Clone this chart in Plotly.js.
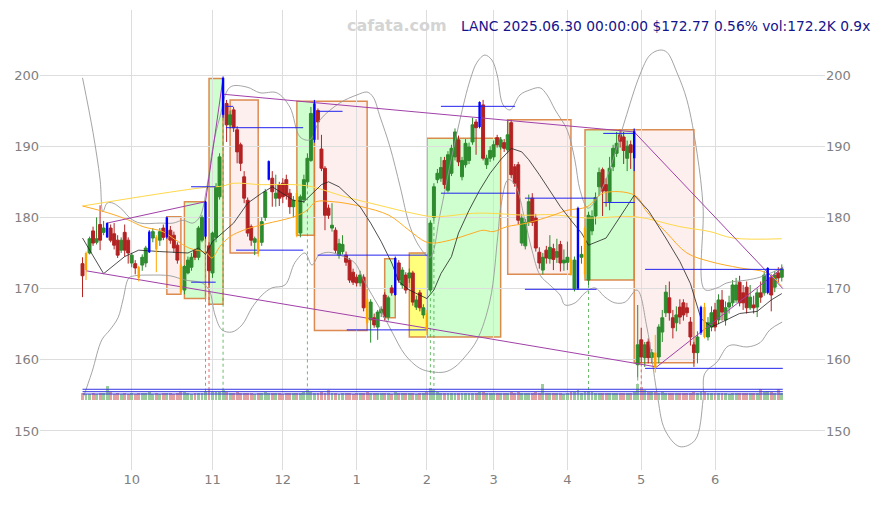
<!DOCTYPE html>
<html><head><meta charset="utf-8">
<script src="https://cdn.plot.ly/plotly-3.0.1.min.js"></script>
<style>html,body{margin:0;padding:0;background:#fff}#chart{width:882px;height:505px}</style>
</head><body><div id="chart"></div>
<script>
// month tick positions (trading-day index) and labels
const monthTickIdx = [14,37,57,78,98,117,138,159,180];
const monthLabels = ['10','11','12','1','2','3','4','5','6'];

const open = [173.5,172.6,175.0,178.1,176.5,179.0,177.9,177.2,178.5,177.7,
176.8,175.4,177.9,176.8,173.6,173.5,173.0,173.3,173.6,175.1,
177.1,177.2,176.8,178.5,177.2,178.2,177.5,176.1,173.3,169.8,
172.2,173.0,175.3,174.4,176.8,177.3,176.0,172.2,177.2,182.9,
194.4,196.0,193.0,195.1,192.3,190.2,185.7,182.4,178.7,176.5,
176.8,176.5,180.0,185.3,185.5,182.7,184.6,184.8,185.3,183.4,
181.5,183.4,177.8,182.5,185.0,188.0,190.9,195.0,189.6,186.9,
181.3,178.5,178.2,174.7,175.2,174.7,174.0,172.3,171.6,170.8,
171.6,168.5,165.6,165.9,164.6,166.6,169.1,166.0,170.1,169.1,
173.6,170.5,171.9,171.5,172.2,167.4,169.4,166.3,166.5,169.8,
180.0,185.3,185.5,188.0,183.8,186.2,188.5,190.9,185.7,187.4,
188.0,190.6,193.4,192.7,195.8,187.4,188.3,188.5,191.2,189.9,
190.5,189.5,193.3,187.1,187.4,176.4,176.0,179.3,182.7,179.9,
175.1,172.6,175.4,174.2,175.6,174.4,176.2,173.6,173.7,174.1,
170.0,170.0,174.4,172.0,171.2,178.1,180.2,184.3,186.7,184.6,
182.2,187.1,189.0,191.6,191.3,188.3,190.2,188.3,159.3,162.8,
160.3,162.5,160.3,161.0,160.4,163.9,166.6,168.7,165.9,165.2,
167.4,168.0,167.3,165.3,162.1,161.0,163.8,167.4,163.2,164.6,
167.0,165.6,168.4,165.6,167.4,168.0,168.4,170.9,169.4,170.2,
167.3,167.7,167.4,169.4,169.4,169.4,171.6,170.2,172.2,171.6];
const high = [174.4,175.2,177.3,178.7,180.0,181.7,179.5,179.3,179.0,179.2,
177.5,177.2,179.0,177.2,175.0,174.0,173.2,174.8,176.0,178.2,
178.5,177.5,178.5,179.0,180.1,178.8,178.0,176.5,173.5,173.3,
174.5,175.0,175.6,178.8,180.3,182.3,176.5,178.0,184.8,189.0,
199.8,196.5,195.0,195.5,192.8,190.5,186.5,182.8,179.0,177.3,
177.0,180.0,184.0,188.0,186.5,186.0,185.0,185.5,186.0,184.0,
183.0,183.8,183.2,186.0,189.0,195.5,196.5,195.3,191.6,187.2,
181.8,182.0,178.6,177.0,177.5,175.2,174.3,172.8,172.0,172.5,
172.0,170.0,168.5,166.5,167.0,167.5,169.5,169.0,170.5,174.5,
174.0,173.0,172.3,172.8,172.5,169.0,169.8,167.8,167.0,179.6,
184.8,186.8,188.5,188.5,189.3,190.2,192.5,191.5,188.5,191.0,
190.5,194.0,193.8,196.3,196.5,188.8,190.0,190.8,191.6,191.3,
191.0,193.7,193.7,187.5,187.8,180.5,179.8,183.2,183.4,180.5,
175.8,175.0,176.0,177.5,176.3,177.0,176.7,175.5,176.6,174.2,
174.5,181.5,176.0,178.8,180.8,181.0,183.5,187.0,187.0,185.5,
188.5,190.2,192.0,192.3,192.0,190.8,190.8,192.5,167.7,164.5,
162.5,163.0,161.5,163.5,165.0,167.0,170.5,171.0,167.0,167.5,
168.5,168.5,168.0,166.0,162.5,164.0,167.6,168.0,166.0,167.5,
168.0,169.2,169.8,168.2,169.0,171.2,171.5,171.8,170.5,171.0,
170.5,169.0,170.0,171.0,172.5,173.0,172.0,172.5,173.0,173.4];
const low = [168.8,171.2,174.8,176.0,176.2,175.4,177.5,177.1,176.5,175.5,
174.3,175.0,174.5,173.5,173.0,172.0,171.0,172.5,173.0,175.0,
176.5,172.3,176.0,176.8,177.0,176.3,175.0,173.5,169.3,169.2,
172.0,172.5,174.0,174.0,176.5,177.0,170.5,171.5,176.5,182.5,
194.0,190.6,192.5,192.0,187.6,186.5,182.0,177.3,176.0,174.7,
174.5,176.0,179.5,185.2,181.5,181.5,181.6,182.0,182.5,180.5,
180.0,177.2,177.2,182.0,184.5,187.8,190.5,190.9,186.5,178.2,
179.8,178.0,175.0,174.2,174.8,173.2,170.8,170.5,170.3,170.3,
166.8,164.8,162.4,164.5,162.8,166.0,165.5,165.5,169.0,169.0,
170.8,170.0,169.3,170.8,167.6,167.0,166.8,165.8,163.5,169.5,
179.5,184.8,185.0,184.0,183.5,185.8,188.0,187.2,185.2,187.0,
187.5,190.2,188.8,192.5,188.0,186.8,187.8,188.0,189.8,189.5,
189.2,189.0,185.5,184.3,179.0,176.0,175.5,178.8,178.8,175.2,
172.8,172.0,173.5,173.5,172.6,173.6,172.4,172.5,172.6,171.8,
169.6,169.8,173.5,171.5,170.5,177.5,179.0,183.0,180.2,181.5,
181.0,186.5,188.5,189.8,187.5,186.5,186.8,186.5,157.5,159.5,
159.0,159.5,159.5,158.2,159.5,162.5,166.0,165.5,163.0,164.0,
165.0,165.5,166.0,162.0,159.0,159.5,163.5,163.0,162.7,164.0,
164.0,165.0,165.5,164.8,166.5,167.5,168.0,167.5,167.0,166.5,
167.0,166.5,166.0,168.0,169.0,169.2,166.8,169.5,170.8,171.0];
const close = [171.8,175.0,177.0,176.4,177.0,176.8,178.5,179.2,176.8,176.1,
174.7,176.8,175.4,175.0,174.7,172.9,171.5,174.4,175.7,178.0,
178.0,175.5,178.0,177.2,180.0,176.8,175.7,174.0,169.5,173.1,
174.0,174.4,174.4,178.5,180.0,182.2,172.5,177.8,184.3,188.5,
199.6,193.0,194.4,192.6,189.2,187.6,182.7,177.8,176.8,177.0,
175.2,179.4,183.6,187.9,183.6,183.4,182.7,182.9,183.1,181.5,
182.4,177.5,182.9,185.3,188.3,194.6,196.0,193.4,186.9,180.3,
180.3,178.9,175.4,176.3,176.2,173.7,171.2,170.9,170.8,171.9,
167.3,165.2,168.1,164.9,166.7,167.1,166.0,168.7,169.4,174.3,
171.2,172.6,169.8,172.2,168.1,168.4,167.3,167.3,164.3,179.2,
184.3,186.2,187.0,184.6,188.8,189.7,192.0,187.8,188.0,190.4,
189.9,193.0,192.6,196.2,188.3,188.3,189.4,190.2,190.2,190.9,
189.7,191.6,186.0,184.8,179.6,179.9,179.3,182.2,179.3,175.7,
173.6,174.4,174.3,175.8,174.1,175.2,173.6,174.0,174.4,172.0,
174.0,181.3,174.8,178.5,180.3,180.1,182.8,186.3,183.7,183.7,
186.9,189.7,190.4,190.7,189.4,190.0,189.1,192.1,162.1,160.4,
162.1,160.3,161.0,158.9,164.6,165.9,169.5,166.6,164.5,166.3,
166.0,166.3,166.6,163.2,161.0,163.2,167.4,163.2,165.2,166.6,
164.6,168.4,166.7,167.3,168.0,170.5,170.5,168.0,168.0,167.3,
168.8,167.3,169.4,168.8,171.9,172.9,169.1,171.9,171.5,172.77];
const volumeK = [180,160,150,170,160,175,165,350,190,160,
170,150,180,160,175,150,185,165,170,190,
160,175,150,170,165,180,160,175,220,190,
170,160,175,165,185,230,260,200,190,210,
240,200,180,170,190,175,185,170,180,160,
175,165,190,170,180,165,175,160,170,185,
165,175,180,190,240,200,180,175,190,170,
250,165,175,160,170,165,180,160,175,170,
185,200,175,170,165,180,170,175,160,190,
170,165,180,175,185,160,175,170,200,290,
250,190,180,175,170,185,175,180,170,165,
175,180,170,200,210,180,175,170,165,180,
170,185,200,180,190,175,170,185,180,190,
175,400,170,165,180,175,170,160,175,190,
200,250,180,230,220,190,180,175,185,170,
180,175,170,185,175,170,180,210,400,330,
250,210,190,200,185,190,175,170,180,165,
175,170,180,165,190,175,200,210,185,175,
170,180,165,175,160,180,170,175,165,180,
170,175,180,270,190,220,200,185,270,172.2];
const volLevelsK = [150,208,268];

const blueIdx = [7,19,24,35,40,53,66,89,113,141,157,176,195];
const orangeIdx = [1,16,21,28,50,61,81,98,139,143,163,177];

// moving averages (sparse readings: index, value)
const blackIdx = [0,6,12,16,22,30,33,35,37,43,47,51,54,60,63,68,70,73,79,82,85,88,90,93,98,100,102,105,107,110,113,116,119,122,125,127,130,133,136,139,142,144,149,157,161,166,170,173,176,179,182,187,192,196,199];
const blackVal = [177.1,172.1,174.5,175.4,175.2,175.0,175.7,174.8,176.6,179.2,182.0,183.4,184.3,182.4,182.2,184.6,185.0,184.3,181.5,179.2,176.6,173.6,171.0,169.8,168.6,169.8,172.1,174.5,177.8,181.0,183.8,186.2,188.1,189.7,189.2,188.1,186.0,183.8,181.5,179.6,177.8,176.1,177.1,183.1,181.0,177.1,173.8,170.7,165.8,164.6,165.3,166.5,166.8,168.4,169.3];
const orangeMaIdx = [0,7.5,13.2,17.2,22.9,26.6,30.3,35.3,36.8,39.1,42.0,45.8,50.5,60.2,63.9,66.4,71.3,74.7,79.5,87.2,92.9,97.5,100,104.6,111.1,114.0,116.8,120.8,126.5,133.9,137.9,143.6,148.1,157.2,160.6,166.3,172.0,178.6,187.1,194.8,199];
const orangeMaVal = [181.6,180.6,179.6,178.7,178.0,176.8,175.7,175.0,174.3,175.9,177.3,178.2,178.9,180.1,181.0,182.2,182.2,182.0,181.5,180.3,178.2,176.6,176.4,176.8,177.8,178.2,178.0,178.7,179.2,180.3,181.0,181.5,183.4,183.1,180.8,177.8,175.0,173.8,172.9,172.2,170.3];
const yellowIdx = [0,32.9,39.7,43.1,50.8,60.2,65.3,74.7,84.4,93.8,100,112.6,126.8,133,143.8,157.2,170,178.6,185.1,199];
const yellowVal = [181.6,184.1,184.4,184.8,184.6,184.6,184.3,182.9,181.7,180.6,180.1,180.6,180.3,180.4,179.9,180.1,178.7,178.0,177.1,177.0];
const upperIdx = [0,3.0,5.0,5.8,7.0,8.7,11.5,13.5,16.4,22.1,25.8,28.6,31.4,33.4,35.4,37.1,39.1,42.0,46.8,50.5,55.3,59.0,61.9,64.7,67.6,73.3,78.1,81.0,82.7,84.7,87.5,90.4,93.2,96.0,98.9,101.7,104.6,107.4,110.3,112.3,114.5,116.5,118.0,119.7,121.7,124.5,127.3,130.2,132.2,134.5,137.9,140.1,141.6,143.8,145.8,149.3,152.1,154.4,158.6,161.5,164.3,166.3,169.2,172.0,174.9,176.6,177.0,180.6,183.4,189.1,192.8,199.1];
const upperVal = [199.6,191.9,185.3,180.8,182.0,182.0,181.0,179.9,179.2,179.2,179.2,179.6,179.2,180.1,184.3,189.9,194.1,198.3,198.3,197.5,197.5,195.5,191.3,190.9,193.7,196.1,197.2,197.6,196.9,194.1,189.9,184.3,178.7,175.8,174.4,180.3,187.4,193.7,199.3,201.8,202.8,202.1,200.0,195.8,195.1,197.2,197.9,198.2,197.2,195.1,192.3,188.1,183.8,181.3,182.2,185.7,189.9,193.7,200.0,202.8,203.5,203.2,200.3,196.5,189.0,181.5,169.9,170.1,170.8,171.2,171.6,172.9];
const lowerIdx = [0,2.7,5.5,7.8,10.1,11.5,13.2,14.9,19.2,24.9,29.2,33.4,34.9,36.3,37.7,39.7,42.5,45.4,48.2,51.1,53.9,57.6,60.5,63.3,65.3,67.3,70.1,74.7,77.5,80.4,84.4,88.1,91.8,96.0,99.5,103.2,106.0,108.8,112.3,116.0,118.2,119.1,121.1,123.1,125.9,127.9,130.2,133.0,135.9,137.3,140.2,143.0,145.8,148.7,151.5,154.4,157.8,160.6,163.5,165.8,170.0,174.3,176.6,177.1,180.6,183.4,185.1,189.1,192.8,195.6,199.1];
const lowerVal = [154.4,158.3,162.8,164.2,165.9,168.4,171.5,171.8,171.9,171.8,171.2,170.9,170.5,169.5,166.3,164.2,163.9,164.9,167.3,169.1,170.1,170.5,173.7,175.0,173.3,174.7,175.1,174.4,173.6,170.8,167.4,163.9,160.7,158.8,158.3,158.3,159.0,160.4,162.8,168.4,177.5,181.7,185.3,184.6,179.6,175.4,171.9,170.5,169.1,167.7,168.0,169.4,170.1,168.8,168.0,168.1,169.8,164.6,155.3,150.1,147.8,148.7,154.4,158.1,159.7,161.8,162.1,161.8,162.4,164.2,165.3];

// zones
const boxStart = [24,29,36,42,61,66,86,93,98,121,143,157];
const boxEnd   = [28,35,40,50,66,81,89,98,119,139,157,174];
const boxTop   = [180.1,182.2,199.5,196.5,196.3,196.3,174.2,175.0,191.1,193.7,192.3,192.3];
const boxBottom= [169.2,168.6,167.8,175.0,177.5,164.1,165.9,163.2,163.2,172.0,171.2,159.6];
const boxKind  = ['p','g','g','p','g','p','g','y','g','p','g','p'];

// blue level segments
const lvlStart = [30.9,30.9,40.8,40.8,43.7,66.9,66.9,75.2,102.0,102.0,125.9,125.9,148.2,148.2,160.1,160.1];
const lvlEnd   = [37.9,37.9,42.9,62.8,62.8,74.0,98.2,98.2,123.1,123.1,146.3,146.3,157.2,157.2,199.3,199.3];
const lvlPrice = [184.3,170.9,195.6,192.6,175.4,194.9,174.7,164.2,195.6,183.4,182.7,169.9,191.8,182.1,172.7,158.8];

// trend lines (index, price)
const trendLines = [
  {i:[1,163.4], p:[172.5,159.0]},
  {i:[7,35,40], p:[179.2,182.2,199.6]},
  {i:[40,157,199.3], p:[197.3,192.0,170.0]},
  {i:[163.4,199.4], p:[159.0,173.0]}
];

const sigUpIdx = [35,40,64,99,100,144,158];
const sigDnIdx = [36,159];
const volBasePrice = 154.4;

const idx = close.map((_, i) => i);
function pick(arr, ids){ return ids.map(i => arr[i]); }
const special = new Set(blueIdx.concat(orangeIdx));
const normIdx = idx.filter(i => !special.has(i));

const traces = [];

// volume
traces.push({type:'bar', x:idx, y:volumeK, yaxis:'y2', width:0.82,
  marker:{color: idx.map(i => close[i] >= open[i] ? '#9ccb9c' : '#e2a2a2'), line:{width:0}},
  hoverinfo:'skip', showlegend:false});
volLevelsK.forEach(v => traces.push({type:'scatter', mode:'lines', x:[0,199.3], y:[v,v], yaxis:'y2',
  line:{color:'#3535e0', width:1}, hoverinfo:'skip', showlegend:false}));

// bands & MAs
traces.push({type:'scatter', mode:'lines', x:upperIdx, y:upperVal, line:{color:'#9a9a9a', width:0.9, shape:'spline'}, hoverinfo:'skip', showlegend:false});
traces.push({type:'scatter', mode:'lines', x:lowerIdx, y:lowerVal, line:{color:'#9a9a9a', width:0.9, shape:'spline'}, hoverinfo:'skip', showlegend:false});
traces.push({type:'scatter', mode:'lines', x:yellowIdx, y:yellowVal, line:{color:'#ffd84a', width:1, shape:'spline'}, hoverinfo:'skip', showlegend:false});
traces.push({type:'scatter', mode:'lines', x:orangeMaIdx, y:orangeMaVal, line:{color:'#ffaa22', width:1, shape:'spline'}, hoverinfo:'skip', showlegend:false});
traces.push({type:'scatter', mode:'lines', x:blackIdx, y:blackVal, line:{color:'#222222', width:0.8}, hoverinfo:'skip', showlegend:false});

// signal dotted lines
sigUpIdx.forEach(i => traces.push({type:'scatter', mode:'lines', x:[i,i], y:[low[i], volBasePrice], line:{color:'#44aa44', width:0.8, dash:'dot'}, hoverinfo:'skip', showlegend:false}));
sigDnIdx.forEach(i => traces.push({type:'scatter', mode:'lines', x:[i,i], y:[low[i], volBasePrice], line:{color:'#dd4444', width:0.8, dash:'dot'}, hoverinfo:'skip', showlegend:false}));

// trend lines
trendLines.forEach(t => traces.push({type:'scatter', mode:'lines', x:t.i, y:t.p, line:{color:'#a040a8', width:1}, hoverinfo:'skip', showlegend:false}));
// level segments
lvlPrice.forEach((p, k) => traces.push({type:'scatter', mode:'lines', x:[lvlStart[k], lvlEnd[k]], y:[p,p], line:{color:'#2222ee', width:1}, hoverinfo:'skip', showlegend:false}));

// regular candles
traces.push({type:'candlestick', x:normIdx, open:pick(open,normIdx), high:pick(high,normIdx), low:pick(low,normIdx), close:pick(close,normIdx),
  increasing:{line:{color:'#2e8b2e', width:1}, fillcolor:'#2e8b2e'},
  decreasing:{line:{color:'#b22222', width:1}, fillcolor:'#b22222'},
  hoverinfo:'skip', showlegend:false});

// signal candles (narrow bars): wick + body segments
function segs(ids, a, b){ const xs=[], ys=[]; ids.forEach(i => { xs.push(i,i,null); ys.push(a[i], b[i], null); }); return {xs, ys}; }
[[blueIdx,'#0000ff'],[orangeIdx,'#ffa500']].forEach(([ids,col]) => {
  const w = segs(ids, low, high);
  traces.push({type:'scatter', mode:'lines', x:w.xs, y:w.ys, line:{color:col, width:1}, hoverinfo:'skip', showlegend:false});
  const b = segs(ids, open, close);
  traces.push({type:'scatter', mode:'lines', x:b.xs, y:b.ys, line:{color:col, width:2.4}, hoverinfo:'skip', showlegend:false});
});

// right-side axis carrier
traces.push({type:'scatter', x:[0], y:[170], yaxis:'y3', mode:'markers', marker:{opacity:0}, hoverinfo:'skip', showlegend:false});

const fills = {g:'rgba(160,255,160,0.5)', p:'rgba(253,225,225,0.55)', y:'rgba(255,255,110,0.9)'};
const shapes = boxStart.map((s, k) => ({type:'rect', xref:'x', yref:'y', layer:'below',
  x0:s, x1:boxEnd[k], y0:boxBottom[k], y1:boxTop[k],
  fillcolor:fills[boxKind[k]], line:{color:'rgba(215,120,50,0.85)', width:1.5}}));

const yRange = [144.52, 209.13];
const layout = {
  width:882, height:505, margin:{l:40, r:57, t:10, b:35},
  paper_bgcolor:'#ffffff', plot_bgcolor:'#ffffff',
  font:{family:'DejaVu Sans, sans-serif', size:13, color:'#808080'},
  showlegend:false, dragmode:false,
  boxmode:'overlay', boxgap:0.12, boxgroupgap:0.05, bargap:0,
  xaxis:{type:'linear', range:[-12.1, 211.3], tickvals:monthTickIdx, ticktext:monthLabels,
    showgrid:true, gridcolor:'#dddddd', gridwidth:1, zeroline:false, showline:false, ticks:'',
    rangeslider:{visible:false}, tickfont:{size:13, color:'#808080'}},
  yaxis:{range:yRange, dtick:10, showgrid:true, gridcolor:'#dddddd', zeroline:false, showline:false, ticks:'',
    side:'left', tickfont:{size:13, color:'#808080'}},
  yaxis3:{range:yRange, dtick:10, overlaying:'y', side:'right', showgrid:false, zeroline:false, showline:false,
    ticks:'', tickfont:{size:13, color:'#808080'}},
  yaxis2:{range:[-1750, 9750], overlaying:'y', visible:false, showgrid:false, zeroline:false},
  shapes: shapes,
  annotations:[
    {text:'<b>cafata.com</b>', xref:'paper', yref:'paper', x:0.4548, y:0.967, xanchor:'center', yanchor:'middle',
     showarrow:false, font:{family:'DejaVu Sans', size:16, color:'#d4d4d4'}},
    {text:'LANC 2025.06.30 00:00:00 $172.77 0.56% vol:172.2K 0.9x', xref:'paper', yref:'paper', x:1.0599, y:0.965,
     xanchor:'right', yanchor:'middle', showarrow:false, font:{family:'DejaVu Sans', size:13.8, color:'#14148c'}}
  ]
};
Plotly.newPlot('chart', traces, layout, {displayModeBar:false, staticPlot:true});
</script>
</body></html>
